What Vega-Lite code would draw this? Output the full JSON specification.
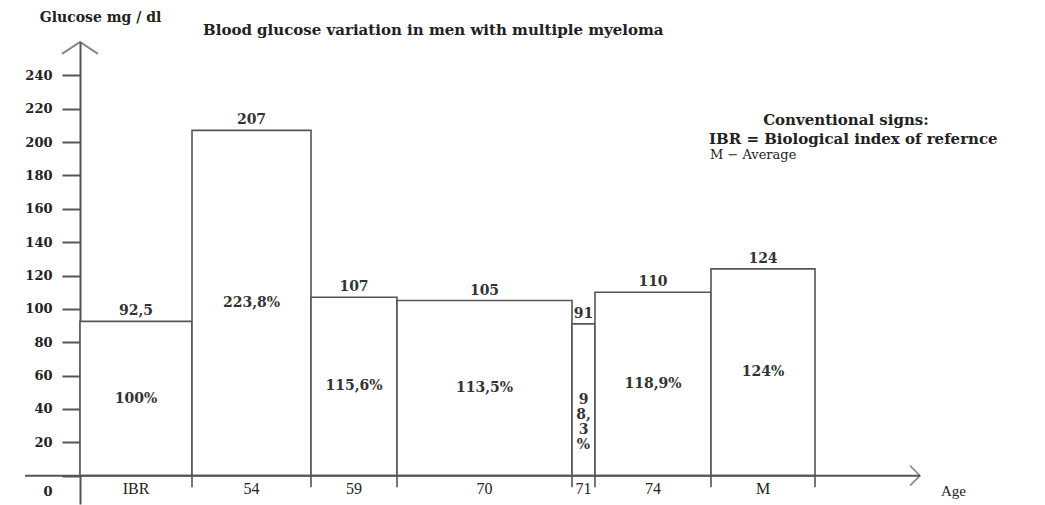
{
  "$schema": "https://vega.github.io/schema/vega-lite/v6.json",
  "width": 895,
  "height": 462,
  "autosize": {"type": "none"},
  "padding": {"left": 25, "top": 42, "right": 125, "bottom": 1},
  "background": "white",
  "config": {"view": {"stroke": null}, "font": "DejaVu Serif"},
  "title": {
    "text": "Blood glucose variation in men with multiple myeloma",
    "anchor": "start",
    "frame": "group",
    "dx": 178,
    "dy": 28,
    "offset": 0,
    "font": "DejaVu Serif",
    "fontSize": 15,
    "fontWeight": "bold",
    "color": "#222"
  },
  "resolve": {"axis": {"x": "independent", "y": "independent"}},
  "datasets": {
    "bars": [
      {"group": "IBR", "start": 0, "end": 112, "glucose": 92.5, "value_label": "92,5", "percent": "100%"},
      {"group": "54", "start": 112, "end": 231, "glucose": 207, "value_label": "207", "percent": "223,8%"},
      {"group": "59", "start": 231, "end": 317, "glucose": 107, "value_label": "107", "percent": "115,6%"},
      {"group": "70", "start": 317, "end": 492, "glucose": 105, "value_label": "105", "percent": "113,5%"},
      {"group": "71", "start": 492, "end": 515, "glucose": 91, "value_label": "91", "percent": "9\n8,\n3\n%"},
      {"group": "74", "start": 515, "end": 631, "glucose": 110, "value_label": "110", "percent": "118,9%"},
      {"group": "M", "start": 631, "end": 735, "glucose": 124, "value_label": "124", "percent": "124%"}
    ]
  },
  "layer": [
    {
      "data": {"name": "bars"},
      "mark": {"type": "rect", "fill": "white", "stroke": "#555", "strokeWidth": 1.6},
      "encoding": {
        "x": {
          "field": "start",
          "type": "quantitative",
          "scale": {"domain": [-55, 840], "nice": false, "zero": false},
          "axis": {
            "domain": false, "ticks": false, "labels": false, "grid": false,
            "title": "Age", "titleX": 928, "titleY": -14,
            "titleAlign": "center", "titleBaseline": "middle",
            "titleFont": "Liberation Serif", "titleFontSize": 15,
            "titleFontWeight": "normal", "titleColor": "#222"
          }
        },
        "x2": {"field": "end"},
        "y": {
          "field": "glucose",
          "type": "quantitative",
          "scale": {"domain": [-17, 260], "nice": false, "zero": false},
          "axis": {
            "values": [0, 20, 40, 60, 80, 100, 120, 140, 160, 180, 200, 220, 240],
            "grid": false,
            "offset": -55,
            "domainColor": "#555", "domainWidth": 2,
            "tickColor": "#555", "tickWidth": 2, "tickSize": 18,
            "labelFont": "DejaVu Serif", "labelFontSize": 13, "labelFontWeight": "bold",
            "labelColor": "#222", "labelPadding": 10, "labelFlush": false, "labelOverlap": false,
            "labelOffset": {"condition": {"test": "datum.value === 0", "value": 16}, "value": 0},
            "title": "Glucose mg / dl",
            "titleAngle": 0, "titleX": 20, "titleY": -25,
            "titleAlign": "center", "titleBaseline": "middle",
            "titleFont": "DejaVu Serif", "titleFontSize": 14, "titleFontWeight": "bold",
            "titleColor": "#222"
          }
        },
        "y2": {"datum": 0}
      }
    },
    {
      "data": {"name": "bars"},
      "mark": {"type": "rule", "stroke": "#555", "strokeWidth": 1.6},
      "encoding": {
        "x": {"field": "end", "type": "quantitative", "axis": null},
        "y": {"datum": 0, "axis": null},
        "y2": {"datum": -7}
      }
    },
    {
      "data": {"values": [{}]},
      "mark": {"type": "rule", "stroke": "#555", "strokeWidth": 2},
      "encoding": {"y": {"datum": 0, "axis": null}}
    },
    {
      "data": {"name": "bars"},
      "transform": [{"calculate": "(datum.start + datum.end) / 2", "as": "mid"}],
      "mark": {"type": "text", "baseline": "bottom", "dy": -3, "font": "DejaVu Serif", "fontSize": 14, "fontWeight": "bold", "fill": "#333"},
      "encoding": {
        "x": {"field": "mid", "type": "quantitative", "axis": null},
        "y": {"field": "glucose", "type": "quantitative", "axis": null},
        "text": {"field": "value_label"}
      }
    },
    {
      "data": {"name": "bars"},
      "transform": [
        {"calculate": "(datum.start + datum.end) / 2", "as": "mid"},
        {"calculate": "datum.glucose / 2", "as": "half"}
      ],
      "mark": {"type": "text", "baseline": "middle", "lineBreak": "\n", "lineHeight": 15, "font": "DejaVu Serif", "fontSize": 14, "fontWeight": "bold", "fill": "#333"},
      "encoding": {
        "x": {"field": "mid", "type": "quantitative", "axis": null},
        "y": {"field": "half", "type": "quantitative", "axis": null},
        "text": {"field": "percent"}
      }
    },
    {
      "data": {"name": "bars"},
      "transform": [{"calculate": "(datum.start + datum.end) / 2", "as": "mid"}],
      "mark": {"type": "text", "baseline": "middle", "font": "Liberation Serif", "fontSize": 16, "fill": "#222"},
      "encoding": {
        "x": {"field": "mid", "type": "quantitative", "axis": null},
        "y": {"datum": -8, "axis": null},
        "text": {"field": "group"}
      }
    },
    {
      "data": {"values": [{}]},
      "mark": {"type": "point", "shape": "M-1,0.66L0,0L1,0.66", "size": 1296, "filled": false, "stroke": "#555", "strokeWidth": 2},
      "encoding": {"x": {"datum": 0, "axis": null}, "y": {"datum": 260, "axis": null}}
    },
    {
      "data": {"values": [{}]},
      "mark": {"type": "point", "shape": "M-1,-1L0,0L-1,1", "size": 400, "filled": false, "stroke": "#555", "strokeWidth": 1.6},
      "encoding": {"x": {"datum": 840, "axis": null}, "y": {"datum": 0, "axis": null}}
    },
    {
      "data": {"values": [{"sign": "IBR = Biological index of refernce"}]},
      "mark": {"type": "point", "opacity": 0},
      "encoding": {
        "shape": {
          "field": "sign",
          "type": "nominal",
          "legend": {
            "title": "Conventional signs:",
            "orient": "none",
            "legendX": 669,
            "legendY": 71,
            "symbolSize": 0,
            "symbolOpacity": 0,
            "symbolStrokeWidth": 0,
            "labelOffset": 0,
            "padding": 0,
            "titleAnchor": "middle",
            "titleAlign": "center",
            "titleFont": "DejaVu Serif",
            "titleFontSize": 15,
            "titleFontWeight": "bold",
            "titleColor": "#222",
            "titlePadding": 3,
            "labelFont": "DejaVu Serif",
            "labelFontSize": 15,
            "labelFontWeight": "bold",
            "labelColor": "#222",
            "labelLimit": 400
          }
        }
      }
    },
    {
      "data": {"values": [{"note": "M  − Average"}]},
      "mark": {"type": "point", "opacity": 0},
      "encoding": {
        "color": {
          "field": "note",
          "type": "nominal",
          "legend": {
            "title": null,
            "orient": "none",
            "legendX": 672,
            "legendY": 106,
            "symbolSize": 0,
            "symbolOpacity": 0,
            "symbolStrokeWidth": 0,
            "labelOffset": 0,
            "padding": 0,
            "labelFont": "DejaVu Serif",
            "labelFontSize": 13,
            "labelFontWeight": "normal",
            "labelColor": "#222",
            "labelLimit": 400
          }
        }
      }
    }
  ]
}
